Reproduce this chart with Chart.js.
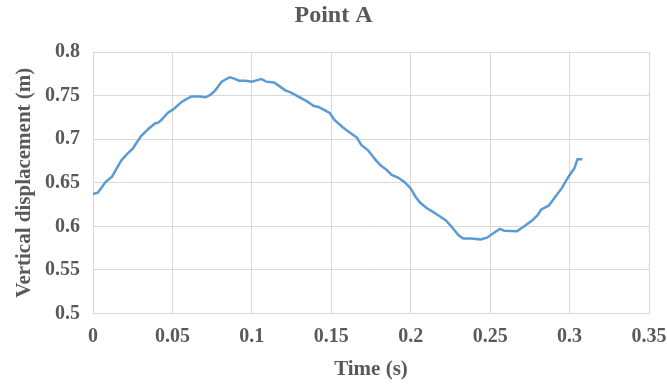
<!DOCTYPE html>
<html>
<head>
<meta charset="utf-8">
<script src="https://cdn.jsdelivr.net/npm/chart.js@4/dist/chart.umd.min.js"></script>
<style>
  html, body { margin: 0; padding: 0; background: #ffffff; }
  #wrap { width: 667px; height: 384px; }
</style>
</head>
<body>
<div id="wrap"><canvas id="c" width="667" height="384"></canvas></div>
<script>
// Measured vertical displacement of Point A over time
const timeS = [
  0.000, 0.003, 0.005, 0.008, 0.012, 0.016, 0.018, 0.022, 0.025, 0.030,
  0.035, 0.039, 0.041, 0.043, 0.047, 0.051, 0.056, 0.058, 0.062, 0.067,
  0.071, 0.074, 0.077, 0.081, 0.084, 0.086, 0.088, 0.092, 0.096, 0.100,
  0.104, 0.106, 0.109, 0.114, 0.118, 0.121, 0.124, 0.127, 0.131, 0.135,
  0.139, 0.142, 0.146, 0.149, 0.152, 0.157, 0.162, 0.166, 0.169, 0.173,
  0.178, 0.181, 0.185, 0.188, 0.192, 0.196, 0.200, 0.203, 0.206, 0.210,
  0.214, 0.217, 0.222, 0.226, 0.230, 0.233, 0.238, 0.244, 0.248, 0.252,
  0.256, 0.259, 0.267, 0.271, 0.276, 0.280, 0.282, 0.287, 0.291, 0.295,
  0.298, 0.301, 0.303, 0.305, 0.308
];
const displacementM = [
  0.637, 0.6385, 0.6435, 0.651, 0.657, 0.670, 0.676, 0.684, 0.689, 0.703,
  0.712, 0.718, 0.719, 0.722, 0.730, 0.735, 0.743, 0.745, 0.749, 0.749,
  0.748, 0.751, 0.756, 0.766, 0.769, 0.771, 0.770, 0.767, 0.767, 0.766,
  0.768, 0.769, 0.766, 0.765, 0.760, 0.756, 0.754, 0.751, 0.747, 0.743,
  0.738, 0.737, 0.733, 0.730, 0.722, 0.714, 0.707, 0.702, 0.693, 0.6875,
  0.676, 0.670, 0.6645, 0.659, 0.656, 0.651, 0.6435, 0.634, 0.627, 0.621,
  0.6166, 0.613, 0.607, 0.599, 0.590, 0.586, 0.586, 0.585, 0.587, 0.592,
  0.597, 0.595, 0.5945, 0.5995, 0.606, 0.613, 0.619, 0.624, 0.634, 0.6435,
  0.653, 0.6614, 0.6665, 0.677, 0.677
];

// Axis tick values
const xTickValues = [0, 0.05, 0.1, 0.15, 0.2, 0.25, 0.3, 0.35];
const yTickValues = [0.5, 0.55, 0.6, 0.65, 0.7, 0.75, 0.8];

const points = timeS.map((t, i) => ({ x: t, y: displacementM[i] }));

const TEXT = '#595959';
const GRID = '#d9d9d9';
const SERIF = "'Liberation Serif', 'Times New Roman', serif";
const fmt = v => String(Number(v.toFixed(2)));

new Chart(document.getElementById('c'), {
  type: 'line',
  data: {
    datasets: [{
      label: 'Point A',
      data: points,
      borderColor: '#5B9BD5',
      borderWidth: 2.5,
      pointRadius: 0,
      tension: 0,
      fill: false
    }]
  },
  options: {
    responsive: false,
    animation: false,
    devicePixelRatio: 1,
    layout: { padding: 0 },
    plugins: {
      legend: { display: false },
      tooltip: { enabled: false },
      title: {
        display: true,
        text: 'Point A',
        color: TEXT,
        font: { family: SERIF, size: 24, weight: 'bold', lineHeight: 1.2 },
        padding: { top: 1, bottom: 22.2 }
      }
    },
    scales: {
      x: {
        type: 'linear',
        min: 0,
        max: 0.35,
        afterBuildTicks: s => { s.ticks = xTickValues.map(v => ({ value: v })); },
        afterFit: s => { s.height = 70.5; s.paddingLeft = 0; s.paddingRight = 18; },
        grid: { color: GRID, lineWidth: 1, drawTicks: false },
        border: { color: GRID, width: 1 },
        ticks: {
          color: TEXT,
          padding: 11.5,
          maxRotation: 0,
          autoSkip: false,
          font: { family: SERIF, size: 20, weight: 'bold' },
          callback: v => fmt(v)
        },
        title: {
          display: true,
          text: 'Time (s)',
          color: TEXT,
          font: { family: SERIF, size: 21, weight: 'bold', lineHeight: 1.2 },
          padding: { top: 0, bottom: 1.4 }
        }
      },
      y: {
        type: 'linear',
        min: 0.5,
        max: 0.8,
        afterBuildTicks: s => { s.ticks = yTickValues.map(v => ({ value: v })); },
        afterFit: s => { s.width = 93; },
        grid: { color: GRID, lineWidth: 1, drawTicks: false },
        border: { color: GRID, width: 1 },
        ticks: {
          color: TEXT,
          padding: 13,
          autoSkip: false,
          font: { family: SERIF, size: 20, weight: 'bold' },
          callback: v => fmt(v)
        },
        title: {
          display: true,
          text: 'Vertical displacement (m)',
          color: TEXT,
          font: { family: SERIF, size: 21, weight: 'bold', lineHeight: 1.2 },
          padding: { top: 12.4, bottom: 0 }
        }
      }
    }
  }
});
</script>
</body>
</html>
